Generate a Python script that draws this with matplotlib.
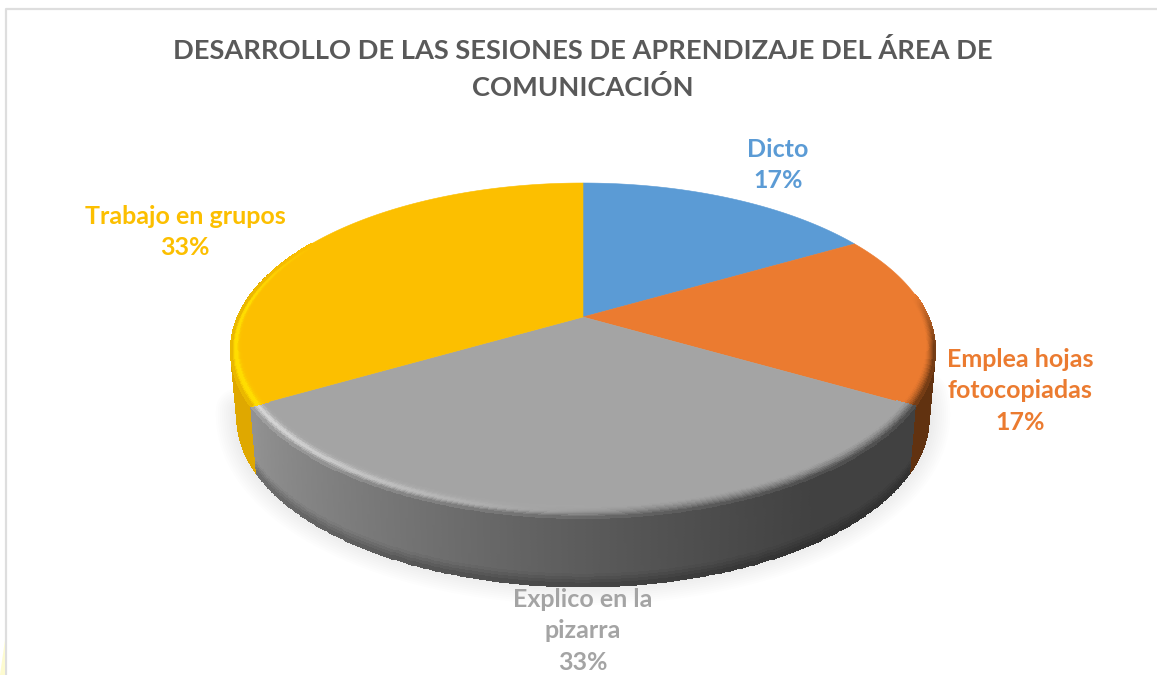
#!/usr/bin/env python3
"""
Pastel 3D: desarrollo de las sesiones de aprendizaje
"""

import numpy as np
import matplotlib
matplotlib.use('Agg')
import matplotlib.pyplot as plt
from matplotlib.colors import to_rgb
from matplotlib.patches import Polygon

plt.rcParams['font.family'] = ['Lato', 'DejaVu Sans']

# datos
categorias = ['Dicto', 'Emplea hojas\nfotocopiadas', 'Explico en la\npizarra', 'Trabajo en grupos']
valores = [1, 1, 2, 2]
titulo = 'DESARROLLO DE LAS SESIONES DE APRENDIZAJE DEL ÁREA DE\nCOMUNICACIÓN'

# estilos
colores = ['#5B9BD5', '#EB7B30', '#A4A4A4', '#FCBF00']
colores_lado = ['#3f6c95', '#613210', '#808080', '#DFA800']
pos_etiquetas = [(778, 165), (1020, 390), (583, 630), (185, 232)]

# geometria de la perspectiva (en pixeles)
CX, CY = 583, 317
A, B, K = 345, 160.8, 0.2
ALTO = 66.5


def proyectar(theta, r=1.0):
    """angulo en grados, horario desde arriba -> pixel"""
    t = np.radians(theta)
    w = 1 + K * r * np.cos(t)
    return CX + A * r * np.sin(t) / w, CY - B * r * np.cos(t) / w


def borde_inferior(theta):
    x, y = proyectar(theta)
    return CX + (x - CX) * 0.982, y + ALTO - 2 * np.cos(np.radians(theta))


def mezcla(a, b, f):
    return a + (b - a) * f[..., None]


fig = plt.figure(figsize=(11.57, 6.75), dpi=100)
ax = fig.add_axes([0, 0, 1, 1])
ax.set_xlim(0, 1157)
ax.set_ylim(675, 0)
ax.axis('off')

# marco del grafico
ax.plot([6, 6, 1157], [675, 9, 9], color='#dedede', lw=1.6, zorder=1)
ax.add_patch(Polygon([(0, 675), (5, 675), (5, 640)], color='#fdfbd0', lw=0, zorder=1))

# angulos a partir de los valores
fracciones = np.array(valores) / sum(valores)
limites = np.concatenate([[0], np.cumsum(fracciones)]) * 360

# sombra
th = np.linspace(limites[1] + 35, limites[3] + 20, 300)
xs, ys = borde_inferior(th)
for lw in range(4, 34, 3):
    ax.plot(xs, ys - 3, color='#000000', alpha=0.009, lw=lw, solid_capstyle='round', zorder=2)

# lados visibles (de atras hacia delante)
for i in [1, 3, 2]:
    ini, fin = limites[i], limites[i + 1]
    if i == 1:
        ini = limites[i] + 30
    if i == 3:
        fin = limites[i] + 60
    th = np.linspace(ini, fin, 260)
    s = np.linspace(0, 1, 24)
    x1, y1 = proyectar(th)
    x2, y2 = borde_inferior(th)
    X = np.outer(1 - s, x1) + np.outer(s, x2)
    Y = np.outer(1 - s, y1) + np.outer(s, y2)
    if i == 2:
        f = np.clip((X - 255) / 560, 0, 1) ** 0.75
        rgb = mezcla(np.array(to_rgb('#929292')), np.array(to_rgb('#414141')), f)
        oscuro = np.clip((np.outer(s, np.ones(th.size)) - 0.8) / 0.2, 0, 1) * 0.3
        rgb = rgb * (1 - oscuro[..., None])
    else:
        rgb = np.ones(X.shape + (3,)) * np.array(to_rgb(colores_lado[i]))
    ax.pcolormesh(X, Y, rgb[:-1, :-1], shading='flat', edgecolors='face', linewidth=0.3, zorder=3)

# caras superiores
for i, color in enumerate(colores):
    th = np.linspace(limites[i], limites[i + 1], 200)
    x, y = proyectar(th)
    ax.add_patch(Polygon(np.column_stack([np.r_[CX, x], np.r_[CY, y]]), closed=True,
                         facecolor=color, edgecolor=color, lw=0.4, zorder=4))

# bisel del borde, solo en la parte delantera
for i in [1, 2, 3]:
    ini, fin = limites[i], limites[i + 1]
    if i == 1:
        ini = 82
    if i == 3:
        fin = 300
    th = np.linspace(ini, fin, 300)
    u = np.linspace(0, 1, 16)
    T, U = np.meshgrid(th, u)
    ancho = 0.03 + 0.04 * np.clip(-np.cos(np.radians(T)), 0, 1)
    R = 1 - ancho * (1 - U)
    X, Y = proyectar(T, R)
    base = np.array(to_rgb(colores[i]))
    lado = np.array(to_rgb(colores_lado[i]))
    if i == 2:
        f = np.clip((X - 255) / 560, 0, 1) ** 0.75
        lado = mezcla(np.array(to_rgb('#929292')), np.array(to_rgb('#414141')), f)
    luz = np.clip((660 - X) / 420, 0, 1)
    sombra = np.clip(U - 0.35, 0, 1) / 0.65
    rgb = base + (lado - base) * (sombra ** 1.5)[..., None]
    brillo = (0.62 * luz * np.exp(-((U - 0.68) / 0.2) ** 2))[..., None]
    if i == 3:
        rgb = rgb + (np.array(to_rgb('#FFDD00')) - rgb) * np.minimum(brillo * 2, 1)
    else:
        rgb = rgb + (1 - rgb) * brillo
    # el bisel se desvanece hacia la parte trasera
    if i == 1:
        desv = np.clip((T - 82) / 18, 0, 1)[..., None]
        rgb = base + (rgb - base) * desv
    if i == 3:
        desv = np.clip((300 - T) / 25, 0, 1)[..., None]
        rgb = base + (rgb - base) * desv
    ax.pcolormesh(X, Y, rgb[:-1, :-1], shading='flat', edgecolors='face', linewidth=0.3, zorder=5)

# textos
ax.text(583, 69, titulo, ha='center', va='center', fontsize=19.6, fontweight='bold',
        color='#595959', linespacing=1.55, zorder=7)
for nombre, frac, color, pos in zip(categorias, fracciones, colores, pos_etiquetas):
    y = pos[1] + (1 if '\n' in nombre else 0)
    ax.text(pos[0], y, f'{nombre}\n{frac * 100:.0f}%', ha='center', va='center',
            fontsize=18, fontweight='bold', color=color, linespacing=1.45, zorder=7)

plt.savefig('out.png', dpi=100)
plt.close()
